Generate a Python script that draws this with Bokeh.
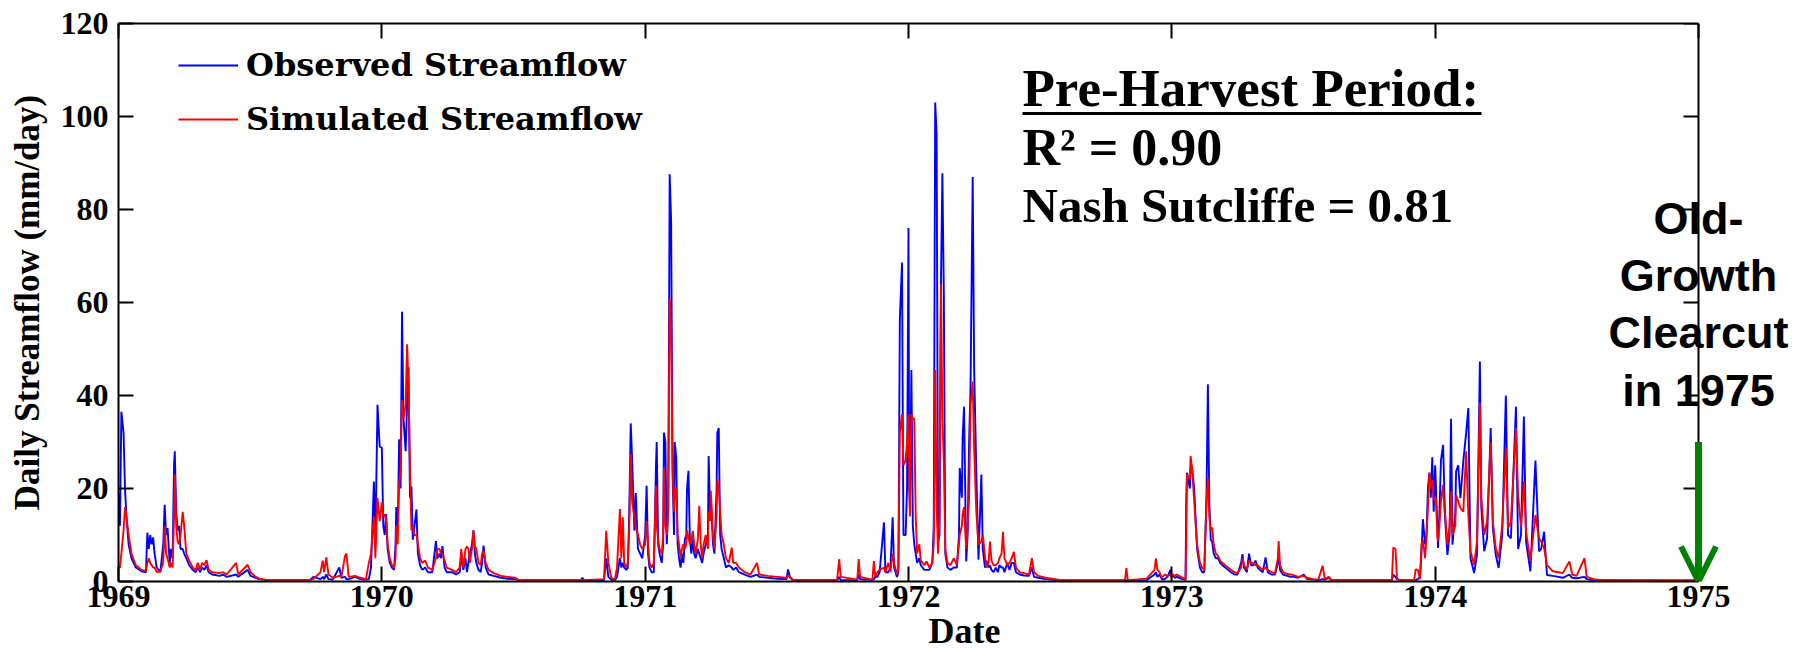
from bokeh.plotting import figure
from bokeh.models import (Range1d, LinearAxis, FixedTicker, Label, Arrow, OpenHead,
                          Legend, LegendItem, ColumnDataSource, CustomJSTickFormatter)
from bokeh.embed import file_html
from bokeh.resources import INLINE

# ---- data: (day of year, observed mm/day, simulated mm/day) ----
flow_1969 = [(0,19,3),(2,12,3),(4,36.5,6),(7,32,11),(9,20,16),(11,14,14),(14,8,10),(18,5,6),(24,3,3.5),
    (32,2.2,2.5),(38,2,2.3),(40,10.5,4),(42,7,5),(44,10,4),(46,8,3.5),(48,9.5,3),(50,6,3),(53,3,2),
    (58,2,2.2),(62,8,4),(64,16.5,12),(66,10,6),(68,11.5,5),(71,4,3),(73,7,4),(75,5,3),(77,25,14),
    (78,28,23),(80,15,12),(82,11,8.5),(84,12,8),(86,7,10),(89,7,15),(91,6,12),(94,5,6),(98,3.5,4.5),
    (103,2.5,3),(107,2,2.5),(110,3,4),(113,2,2.5),(116,3,4),(119,2.5,3.5),(122,3.5,4.6),(125,2,2.5),
    (130,1.5,2),(140,1.2,1.8),(145,1.5,2),(150,1,1.5),(163,1.5,4),(166,1,1.5),(179,2.5,3.6),(183,1.2,2),
    (190,0.8,1),(195,0.5,0.6),(207,0.3,0.3),(265,0.3,0.3),(270,1,0.5),(280,0.5,2),(283,1,4.5),(285,0.5,2),
    (288,1.5,5.2),(291,0.5,1.5),(297,0.4,0.8),(306,3,1.2),(309,0.8,1),(314,1,5.5),(316,0.5,6),(319,0.5,1),
    (328,1,1.2),(335,0.5,0.8),(343,0.4,0.5),(347,0.5,4),(350,3,6),(354,21.5,14),(356,8,5),(359,38,18),
    (362,29,13)]

flow_1970 = [(0,28.8,17),(2,12,14),(4,10,14.5),(6,14.5,13),(8,7,8),(11,4,5),(14,3,3.5),(17,2.5,3),
    (19,8,5),(20,16,12),(22,10,8),(24,30.6,21),(26,20,24),(28,58,39),(30,35,35),(33,28,38),(35,38,51),
    (37,46,41.7),(39,18,25),(41,20.5,11),(43,9,12),(45,11.6,10),(48,15.5,10),(50,6,8),(53,3.5,5),
    (56,2.5,4),(60,3,4.5),(64,2,3),(70,2,2.5),(75,8.7,5),(77,5,7),(80,6,7),(82,5,6),(84,7.6,6),
    (87,3,4.5),(90,2,3),(97,2,2.5),(103,1.5,2),(108,2,3),(110,5.5,7),(113,2.5,3),(116,5,7),(118,2,7.5),
    (120,4,7),(122,6,4),(125,8,7),(127,11,11),(129,6,7.5),(131,4,7),(134,2.5,4),(137,2,3.5),(139,4,6),
    (141,7.7,6.5),(144,3,4),(148,1.5,2.5),(155,1.2,1.8),(165,0.8,1.2),(175,0.6,1),(185,0.5,0.8),
    (190,0.3,0.3),(276,0.3,0.3),(278,0.8,0.3),(280,0.3,0.3),(308,0.3,0.5),(311,5,10.9),(314,1,4),
    (318,0.4,0.8),(323,0.2,0.4),(326,1,3),(330,5,15.6),(332,3,5),(334,4,13.8),(336,3,4),(339,2.5,3),
    (341,3,4),(343,15,12),(345,34,27.4),(347,26,17),(350,11,14),(352,19,11.5),(355,7,10),(358,6,8),
    (361,5,7)]

flow_1971 = [(0,10,8),(2,20.6,13),(4,6,8),(6,3,4),(9,2,3),(12,2,4),(15,25,20.6),(16,30,12),(18,8,9),
    (20,6,7),(23,4,6),(25,8,10),(26,32,24.5),(28,30,12),(30,8,10),(32,16,15),(34,87.6,61),(36,77.5,54.6),
    (38,23,24.5),(40,10,15),(41,30,20),(43,26.7,20),(45,8,10),(47,5,8),(49,3,5),(51,6,7),(53,4,8),
    (55,9,7),(57,10,8),(58,20,11),(60,23.8,9.5),(62,9,8),(64,6,9),(66,9,10.9),(68,6,8),(70,5,6),
    (73,7,9),(75,6,16.3),(77,5,8),(79,4,5),(81,6,8),(84,8,10),(87,10,7),(88,27,15),(90,15,13),
    (91,18,19.5),(94,8,10),(96,6,7),(99,20,14),(100,32,22),(102,33,20),(104,10,15),(106,7,10),
    (109,5,8),(112,3,5),(116,3.5,4),(120,3,7.3),(122,2.5,4),(126,3,4),(130,2,3),(138,1.5,2),
    (146,1,1.5),(155,1.5,4),(158,1,1.5),(170,0.8,1.2),(183,0.6,1),(196,0.5,0.8),(198,2.6,1.2),
    (201,0.8,1),(205,0.3,0.3),(266,0.3,0.3),(269,1,4.8),(271,0.3,1),(294,0.3,0.4),(296,1.5,4.8),
    (298,0.5,1),(315,0.3,0.4),(317,0.5,4.4),(319,1,1),(322,1,2),(325,2,2.5),(331,12.7,3),(333,2,2),
    (337,2,4),(340,3,2),(343,13.8,6),(345,3,4),(349,1,1.5),(351,2,3),(353,56.4,32),(356,68.6,36),
    (358,10,25),(361,10,26),(363,20,30)]

flow_1972 = [(0,76,36),(1,20,25),(2,15.8,14),(4,45.5,36),(6,12,35),(8,8,35),(10,6,14),(12,4,6),
    (15,5,8),(17,3.5,4.5),(22,2.5,3.5),(25,2.5,4.3),(29,2.5,3),(33,4,4),(35,11.5,8),(37,103,45.5),
    (39,96.4,16),(41,8.5,6),(43,10,15),(45,64.5,64),(47,87.8,35),(49,61.6,25.8),(51,6,7),(54,3,4),
    (58,2.5,3.5),(63,3,5),(67,3,3.5),(70,10,8),(71,24.4,10),(74,18,12),(75,31,14.5),(77,37.6,16),
    (80,4.3,7),(82,10,12),(84,30,18),(86,42,38),(89,87,43),(91,45.9,28.7),(94,23.7,15),(97,4.7,7.9),
    (101,23,8.6),(103,7,10),(106,3,5.5),(108,4.5,3),(111,3,4),(113,3.5,8.6),(115,2.5,4.5),(118,2,3.5),
    (121,3,3.5),(124,2,4),(126,3.5,5),(129,3,6),(131,3,10.7),(133,2,5),(137,4,3.5),(140,2.5,4),
    (143,4,5),(146,4,6.4),(149,2,3),(154,1.5,2),(160,1.3,1.8),(167,1.2,1.5),(171,3,5),(174,1,2),
    (180,0.8,1.2),(190,0.5,0.8),(212,0.2,0.3),(300,0.2,0.3),(302,0.3,2.9),(304,0.2,0.3),(330,0.3,0.6),
    (341,1.5,2.5),(343,2,5),(345,1,2.5),(348,1.5,2),(351,0.5,0.8),(355,0.5,1.5),(359,1,1.2),
    (363,2.5,1.5)]

flow_1973 = [(0,0.8,1),(1,1.6,1.5),(4,0.8,1.2),(7,1,1.5),(10,0.8,1.2),(15,0.5,0.8),(19,0.3,0.4),
    (20,17.3,8.4),(21,23.4,23),(25,20,22),(26,24.5,27),(28,24.5,24.5),(31,20,17.3),(33,13.5,12.3),
    (35,7,8),(37,5,6),(39,3,4),(42,2,3),(45,2,2.5),(48,17.7,17.3),(50,42.4,22.3),(52,16.6,14),
    (54,9,11),(56,8.5,11.6),(58,6,8),(61,5,6),(64,5,5.5),(67,4,4.5),(70,3.5,4),(74,3,3.5),(78,2.5,3),
    (82,2,2.5),(87,1.5,2),(91,1.5,1.8),(96,4,3),(98,5.9,5),(100,3,3.5),(104,2,2.5),(107,6,4.5),
    (110,3.5,4),(113,3.5,4),(116,4.5,3.5),(119,3,3.5),(122,2.5,3),(126,2,2.5),(130,5.2,3),(133,2,2.5),
    (138,1.5,2),(143,1.5,1.8),(147,4,5),(148,6.5,8.7),(150,2.5,3.5),(154,1.5,2),(160,1.2,1.6),
    (165,1,1.5),(170,1,1.3),(175,0.8,1),(183,1.5,1.2),(187,0.6,0.8),(196,0.4,0.5),(203,0.3,0.4),
    (209,0.5,3.4),(212,0.4,0.6),(218,0.8,1),(221,0.3,0.3),(305,0.3,0.3),(307,1.5,7.3),(310,1,7),
    (312,0.5,0.8),(315,0.3,0.3),(336,0.3,0.3),(338,0.3,2.6),(341,0.5,2.5),(344,1,0.5),(346,6,8),
    (348,13.4,9),(351,8,5),(353,10,9.5),(355,20,16),(357,23.4,23.4),(359,18,20),(361,26.7,21.7),
    (363,15,18)]

flow_1974 = [(0,25,17),(1,20.8,17.9),(3,12,10),(4,7.2,8.6),(6,15,12),(8,26,17.2),(11,29.4,20.8),
    (13,18,15),(14,13,14.3),(17,5.7,7.9),(20,10,12),(22,35,19.4),(24,7.9,10),(28,15,12),(29,23.7,18.6),
    (32,25,17.2),(35,17.9,15.8),(39,25.8,15),(43,32,28),(46,37.3,14.3),(49,5,6.5),(54,1.8,3.6),
    (58,5.7,8.6),(62,47.3,38.4),(64,15.8,17.9),(68,6.5,10),(72,9.3,12.9),(77,33,30),(80,11.5,12.9),
    (84,5.7,7.2),(88,2.9,5),(93,10,12.2),(98,40,28.7),(101,10,11.5),(105,9.3,12.9),(112,37.6,33),
    (115,7,18.6),(119,10,11.8),(123,35.5,21.5),(126,8.6,10.7),(132,2.2,4.3),(139,26,14.3),(144,6.5,9.3),
    (147,7,8.6),(151,10.7,7.2),(155,1.4,3.6),(163,1.2,2.2),(171,1,2),(177,0.8,1.8),(186,1.5,4.3),
    (190,0.8,1.5),(196,0.7,1.2),(207,1,5),(210,0.5,1),(220,0.3,0.5),(232,0.3,0.3),(365,0.2,0.2)]

years = [1969, 1970, 1971, 1972, 1973, 1974]
year_ticks = [1969, 1970, 1971, 1972, 1973, 1974, 1975]
y_ticks = [0, 20, 40, 60, 80, 100, 120]
all_flows = [flow_1969, flow_1970, flow_1971, flow_1972, flow_1973, flow_1974]

t, obs, sim = [], [], []
for yr, rows in zip(years, all_flows):
    for d, o, s in rows:
        t.append(yr + d / 365.0)
        obs.append(o)
        sim.append(s)

src = ColumnDataSource(dict(t=t, obs=obs, sim=sim))

# ---- figure ----
W, H = 1810, 653
L, T, B = 118, 23, 72
px_per_year = 263.33
frame_w = W - L
x_end = 1969 + frame_w / px_per_year   # frame extends to right edge so annotations are not clipped

p = figure(width=W, height=H, x_range=Range1d(1969, x_end), y_range=Range1d(0, 120),
           output_backend="svg", toolbar_location=None,
           min_border_left=L, min_border_right=0, min_border_top=T, min_border_bottom=B)
p.background_fill_color = "white"
p.border_fill_color = "white"
p.outline_line_color = None
p.xgrid.visible = False
p.ygrid.visible = False

r_obs = p.line("t", "obs", source=src, line_color="#0000ff", line_width=1.9)
r_sim = p.line("t", "sim", source=src, line_color="#ff0000", line_width=1.9)

serif = "Liberation Serif"

def style_axis(ax):
    ax.major_tick_in = 15
    ax.major_tick_out = 0
    ax.minor_tick_in = 0
    ax.minor_tick_out = 0
    ax.major_tick_line_width = 2
    ax.axis_line_width = 2
    ax.axis_line_color = "black"
    ax.major_tick_line_color = "black"

xa = p.xaxis[0]
ya = p.yaxis[0]
for ax in [xa, ya]:
    style_axis(ax)
    ax.major_label_text_font = serif
    ax.major_label_text_font_style = "bold"
    ax.major_label_text_font_size = "32px"
    ax.major_label_text_color = "black"

xa.ticker = FixedTicker(ticks=year_ticks)
xa.bounds = (1969, 1975)
xa.major_label_standoff = 4
xa.axis_label = "Date"
xa.axis_label_text_font = serif
xa.axis_label_text_font_style = "bold"
xa.axis_label_text_font_size = "36px"
xa.axis_label_text_color = "black"
xa.axis_label_text_line_height = 0.55
xa.axis_label_standoff = 1

ya.ticker = FixedTicker(ticks=y_ticks)
ya.major_label_standoff = 10
ya.axis_label = "Daily Streamflow (mm/day)"
ya.axis_label_text_font = serif
ya.axis_label_text_font_style = "bold"
ya.axis_label_text_font_size = "35px"
ya.axis_label_text_color = "black"
ya.axis_label_standoff = 11

blank = CustomJSTickFormatter(code="return ''")
top_ax = LinearAxis(ticker=FixedTicker(ticks=year_ticks), formatter=blank, bounds=(1969, 1975))
right_ax = LinearAxis(ticker=FixedTicker(ticks=y_ticks), formatter=blank, fixed_location=1975)
for ax in [top_ax, right_ax]:
    style_axis(ax)
    ax.major_label_standoff = 0
    ax.major_label_text_font_size = "1px"
p.add_layout(top_ax, "above")
p.add_layout(right_ax, "right")

# pixel -> data helpers for annotation placement
frame_h = H - T - B
def dx(px):
    return 1969 + (px - L) / px_per_year
def dy(py):
    return (H - B - py) / frame_h * 120
def text_mid(baseline_px, size):
    # vertical middle of a text whose alphabetic baseline sits at baseline_px
    return dy(baseline_px - 0.36 * size)

# Legend
legend = Legend(items=[LegendItem(label="Observed Streamflow", renderers=[r_obs]),
                       LegendItem(label="Simulated Streamflow", renderers=[r_sim])],
                location=(60, 443))
legend.label_text_font = "DejaVu Serif"
legend.label_text_font_style = "bold"
legend.label_text_font_size = "32px"
legend.label_text_color = "black"
legend.glyph_width = 60
legend.glyph_height = 36
legend.label_height = 36
legend.spacing = 16
legend.padding = 0
legend.margin = 0
legend.label_standoff = 8
legend.border_line_color = None
legend.background_fill_alpha = 0
p.add_layout(legend)

# statistics annotation
stats = [("Pre-Harvest Period:", 107, 53), ("R² = 0.90", 166, 52), ("Nash Sutcliffe = 0.81", 223, 49)]
for txt, base, size in stats:
    p.add_layout(Label(x=dx(1022), y=text_mid(base, size), text=txt, text_font=serif,
                       text_font_style="bold", text_font_size=f"{size}px", text_baseline="middle",
                       text_color="black"))
p.segment(x0=[dx(1022)], y0=[dy(113)], x1=[dx(1481)], y1=[dy(113)], line_color="black", line_width=3)

# clearcut annotation
for line_txt, base in [("Old-", 234), ("Growth", 291), ("Clearcut", 348), ("in 1975", 406)]:
    p.add_layout(Label(x=1975, y=text_mid(base, 45), text=line_txt, text_font="Liberation Sans",
                       text_font_style="bold", text_font_size="45px", text_align="center",
                       text_baseline="middle", text_color="black"))

p.add_layout(Arrow(end=OpenHead(size=35, line_color="#008000", line_width=6),
                   x_start=1975, y_start=30, x_end=1975, y_end=0,
                   line_color="#008000", line_width=7))

open("out.html", "w").write(file_html(p, INLINE))
